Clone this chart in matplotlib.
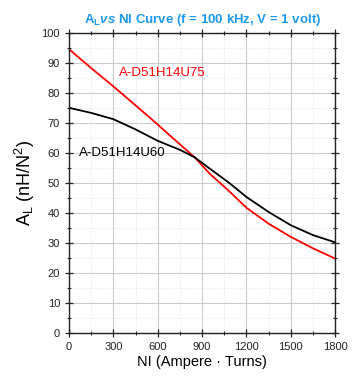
import matplotlib
matplotlib.use("Agg")
import matplotlib.pyplot as plt
from matplotlib.ticker import MultipleLocator

plt.rcParams['font.family'] = ['Liberation Sans', 'DejaVu Sans']
plt.rcParams['mathtext.fontset'] = 'custom'
plt.rcParams['mathtext.it'] = 'Liberation Sans:italic:bold'

ni = [0, 150, 300, 450, 600, 750, 850, 950, 1075, 1200, 1350, 1500, 1650, 1800]
al_u75 = [94.5, 88.2, 82.1, 75.8, 69.4, 62.8, 58.5, 53.1, 47.6, 41.7, 36.4, 32.0, 28.2, 24.8]
al_u60 = [75.0, 73.3, 71.2, 67.8, 64.0, 61.0, 58.5, 54.8, 50.3, 45.3, 40.3, 35.9, 32.6, 30.2]

fig = plt.figure(figsize=(3.6, 3.83), dpi=100)
ax = fig.add_axes([0.192, 0.1305, 0.739, 0.784])

ax.plot(ni, al_u75, color='red', linewidth=1.3, solid_joinstyle='round')
ax.plot(ni, al_u60, color='black', linewidth=1.3, solid_joinstyle='round')

ax.text(337, 86.6, "A-D51H14U75", color='red', fontsize=9.5, va='center')
ax.text(68, 59.8, "A-D51H14U60", color='black', fontsize=9.5, va='center')

ax.set_xlim(0, 1800)
ax.set_ylim(0, 100)
ax.xaxis.set_major_locator(MultipleLocator(300))
ax.xaxis.set_minor_locator(MultipleLocator(150))
ax.yaxis.set_major_locator(MultipleLocator(10))
ax.yaxis.set_minor_locator(MultipleLocator(5))

ax.grid(which='major', color='#cccccc', linewidth=0.8)
ax.grid(which='minor', color='#dddddd', linewidth=0.6, linestyle=':')
ax.set_axisbelow(True)

ax.tick_params(which='both', direction='inout', top=True, right=True, labelsize=8, colors='#222222')
ax.tick_params(which='major', length=6, width=0.9)
ax.tick_params(which='minor', length=3, width=0.8)
for s in ax.spines.values():
    s.set_color('#222222')
    s.set_linewidth(1.0)

ax.set_xlabel("NI (Ampere \u00b7 Turns)", fontsize=10.5, labelpad=2)
ax.set_ylabel(r"A$_\mathregular{L}$ (nH/N$^\mathregular{2}$)", fontsize=13, labelpad=3)
ax.set_title(r"A$_\mathregular{L}$$\mathit{vs}$ NI Curve (f = 100 kHz, V = 1 volt)",
             color='#1e9bf0', fontsize=9.5, fontweight='bold', pad=7)

fig.savefig("out.png", dpi=100)
